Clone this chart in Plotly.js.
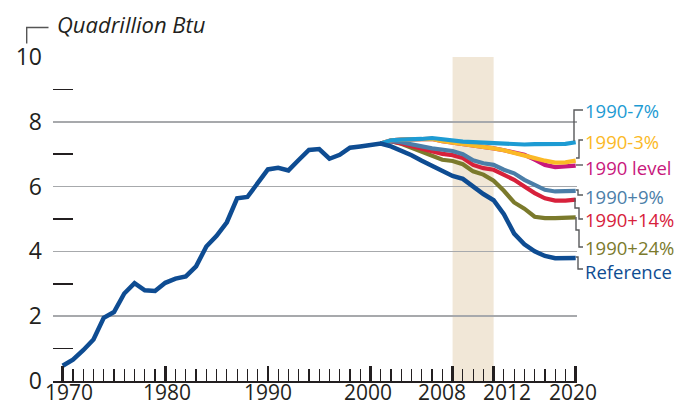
<!DOCTYPE html>
<html>
<head>
<meta charset="utf-8">
<script src="https://cdn.plot.ly/plotly-3.0.1.min.js"></script>
<style>html,body{margin:0;padding:0;background:#fff;}#chart{width:691px;height:407px;}</style>
</head>
<body>
<div id="chart"></div>
<script>
// ---- Data ----
const refYears = [1970,1971,1972,1973,1974,1975,1976,1977,1978,1979,
                  1980,1981,1982,1983,1984,1985,1986,1987,1988,1989,
                  1990,1991,1992,1993,1994,1995,1996,1997,1998,1999,
                  2000,2001,2002,2003,2004,2005,2006,2007,2008,2009,
                  2010,2011,2012,2013,2014,2015,2016,2017,2018,2019,2020];
const reference = [0.47,0.66,0.95,1.28,1.95,2.13,2.70,3.02,2.80,2.78,
                   3.03,3.16,3.23,3.54,4.15,4.48,4.90,5.64,5.68,6.08,
                   6.53,6.58,6.50,6.82,7.13,7.16,6.86,6.98,7.20,7.24,
                   7.27,7.33,7.24,7.11,6.97,6.80,6.64,6.47,6.33,6.24,
                   6.00,5.77,5.58,5.15,4.55,4.22,4.00,3.86,3.79,3.78,3.80];

const scenYears = [2001,2002,2003,2004,2005,2006,2007,2008,2009,2010,
                   2011,2012,2013,2014,2015,2016,2017,2018,2019,2020];
const minus7  = [7.33,7.43,7.45,7.45,7.47,7.50,7.46,7.41,7.39,7.37,7.35,7.33,7.31,7.30,7.30,7.31,7.31,7.31,7.32,7.37];
const minus3  = [7.33,7.43,7.45,7.45,7.46,7.47,7.40,7.36,7.31,7.27,7.23,7.18,7.12,7.05,6.98,6.88,6.80,6.74,6.75,6.80];
const level   = [7.33,7.43,7.45,7.45,7.46,7.47,7.40,7.36,7.31,7.27,7.23,7.18,7.12,7.05,6.98,6.83,6.67,6.60,6.62,6.65];
const plus9   = [7.33,7.40,7.37,7.29,7.24,7.18,7.14,7.10,7.00,6.81,6.72,6.67,6.52,6.41,6.21,6.06,5.90,5.85,5.85,5.87];
const plus14  = [7.33,7.40,7.33,7.25,7.17,7.08,7.01,6.97,6.88,6.67,6.57,6.52,6.37,6.21,6.00,5.80,5.64,5.57,5.57,5.60];
const plus24  = [7.33,7.40,7.32,7.19,7.06,6.94,6.83,6.79,6.69,6.47,6.37,6.18,5.87,5.51,5.32,5.07,5.03,5.03,5.04,5.05];

const seriesNames = ["1990-7%","1990-3%","1990 level","1990+9%","1990+14%","1990+24%","Reference"];
const seriesColors = ["#1d9bd3","#fbb926","#c8177c","#4b7ea8","#d7213b","#7b7a2c","#0e4c92"];

const xTickVals = [1970,1980,1990,2000,2008,2012,2020];
const xTickText = ["1970","1980","1990","2000","2008","2012","2020"];
const xLabelPos = [1970.6,1980.2,1990,1999.8,2006.95,2013.3,2019.7];
const yTickVals = [0,2,4,6,8,10];
const yMinorVals = [1,3,5,7,9];
const shadeStart = 2008, shadeEnd = 2012;
const unitTitle = "Quadrillion Btu";

// ---- Layout helpers (pixel -> paper) ----
const PL = 53, PR = 577, PT = 57, PB = 381;
const X = px => (px - PL) / (PR - PL);
const Y = py => (PB - py) / (PB - PT);

const scenData = [minus7, minus3, level, plus9, plus14, plus24];
const drawOrder = [5,4,3,2,1,0];
const traces = [];
drawOrder.forEach(i => {
  traces.push({x: scenYears, y: scenData[i], type: 'scatter', mode: 'lines',
    name: seriesNames[i], line: {color: seriesColors[i], width: 4.2}, hoverinfo: 'skip'});
});
traces.push({x: refYears, y: reference, type: 'scatter', mode: 'lines',
  name: seriesNames[6], line: {color: seriesColors[6], width: 4.5}, hoverinfo: 'skip'});

// label positions (pixel centre y) and connector paths (pixels)
const labelY = [111, 141, 167, 196, 219, 248, 271];
const connectors = [
  [[574,141],[574,110],[583,110]],
  [[576,158],[579,158],[579,140],[583,140]],
  [[576,165],[583,165]],
  [[576,190],[578,190],[578,195],[583,195]],
  [[575,198],[575,208],[579,208],[579,219],[583,219]],
  [[576,217],[576,230],[579,230],[579,247],[583,247]],
  [[576,257],[578,257],[578,269],[583,269]]
];

const shapes = [
  {type:'rect', xref:'x', yref:'y', x0: shadeStart, x1: shadeEnd, y0: 0, y1: 10,
   fillcolor:'#f1e7d7', line:{width:0}, layer:'below'},
  {type:'path', xref:'paper', yref:'paper',
   path:`M ${X(26.7)} ${Y(43.5)} L ${X(26.7)} ${Y(27.5)} L ${X(48.5)} ${Y(27.5)}`,
   line:{color:'#555', width:1.4}}
];
connectors.forEach(c => {
  const p = c.map((pt, k) => (k === 0 ? 'M ' : 'L ') + X(pt[0]) + ' ' + Y(pt[1])).join(' ');
  shapes.push({type:'path', xref:'paper', yref:'paper', path:p, line:{color:'#58595b', width:1.4}});
});

const annotations = [];
xTickText.forEach((t, i) => {
  annotations.push({text: t, x: xLabelPos[i], xref: 'x', y: Y(406.5), yref: 'paper',
    xanchor: 'center', yanchor: 'bottom', showarrow: false, borderpad: 0,
    font: {size: 21, color: '#231f20', family: 'Open Sans, sans-serif'}});
});
seriesNames.forEach((n, i) => {
  annotations.push({text: n, x: X(584), xref: 'paper', y: Y(labelY[i]), yref: 'paper',
    xanchor: 'left', yanchor: 'middle', showarrow: false, borderpad: 0,
    font: {size: 18.5, color: seriesColors[i], family: 'Open Sans, sans-serif'}});
});
annotations.push({text: '<i>' + unitTitle + '</i>', x: X(55), xref: 'paper', y: Y(24), yref: 'paper',
  xanchor: 'left', yanchor: 'middle', showarrow: false,
  font: {size: 22, color: '#231f20', family: 'Open Sans, sans-serif'}});

const layout = {
  width: 691, height: 407,
  margin: {l: PL, r: 691 - PR, t: PT, b: 407 - PB, pad: 0},
  paper_bgcolor: '#fff', plot_bgcolor: 'rgba(0,0,0,0)',
  showlegend: false,
  font: {family: 'Open Sans, sans-serif', color: '#231f20'},
  xaxis: {
    range: [1969.055, 2020.127], tickmode: 'array', tickvals: xTickVals,
    ticktext: xTickVals.map(() => ''), ticks: 'inside', ticklen: 15, tickwidth: 2.6,
    tickcolor: '#231f20', showgrid: false, zeroline: false,
    showline: true, linecolor: '#231f20', linewidth: 1.5,
    minor: {tickmode: 'linear', tick0: 1970, dtick: 1, ticks: 'inside', ticklen: 12,
            tickwidth: 1.2, tickcolor: '#231f20', showgrid: false},
    fixedrange: true
  },
  yaxis: {
    range: [0, 10], tickmode: 'array', tickvals: yTickVals, ticks: '',
    showgrid: true, gridcolor: '#a7a9ac', gridwidth: 1.5, zeroline: false, showline: false,
    tickfont: {size: 23, color: '#231f20'}, ticklabelstandoff: 10,
    minor: {tickmode: 'array', tickvals: yMinorVals, ticks: 'inside', ticklen: 20,
            tickwidth: 1.5, tickcolor: '#231f20', showgrid: false},
    fixedrange: true
  },
  shapes: shapes,
  annotations: annotations
};

Plotly.newPlot('chart', traces, layout, {displayModeBar: false, staticPlot: true});
</script>
</body>
</html>
